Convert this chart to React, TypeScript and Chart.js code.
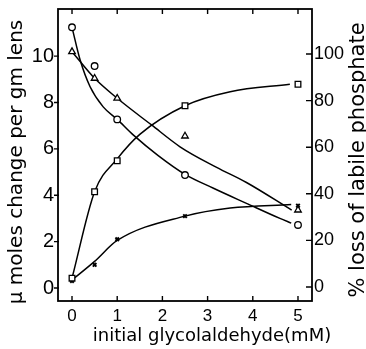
import React, { useEffect, useRef } from "react";
import { Chart, registerables } from "chart.js";

Chart.register(...registerables);

// ---- data ----
const xValues = [0, 0.5, 1, 2.5, 5];
const circleValues = [11.24, 9.57, 7.27, 4.87, 2.72]; // µmoles
const triangleValues = [10.19, 9.04, 8.18, 6.55, 3.36]; // µmoles
const crossValues = [0.3, 1.0, 2.1, 3.1, 3.55]; // µmoles
const squareValues = [3.8, 40.9, 54.2, 77.8, 87.0]; // % loss

// smooth hand-drawn curves
const circleCurveX = [0, 0.18, 0.4, 0.69, 1, 1.36, 1.9, 2.5, 3.13, 3.86, 4.6, 4.85];
const circleCurveY = [11.24, 9.83, 8.68, 7.81, 7.27, 6.59, 5.72, 4.9, 4.3, 3.65, 3.0, 2.8];
const triangleCurveX = [0, 0.5, 1, 1.76, 2.39, 3.2, 3.86, 4.86];
const triangleCurveY = [10.19, 9.04, 8.18, 7.03, 6.09, 5.2, 4.55, 3.36];
const crossCurveX = [0, 0.5, 1, 2.5, 3.5, 4.85];
const crossCurveY = [0.35, 1.15, 2.05, 3.1, 3.45, 3.6];
const squareCurveX = [0, 0.5, 1, 1.5, 2.5, 3.5, 4.82];
const squareCurveY = [3.8, 40.9, 55, 65.5, 77.8, 83.8, 87.0];

const xTicks = [0, 1, 2, 3, 4, 5];
const leftTicks = [0, 2, 4, 6, 8, 10];
const rightTicks = [0, 20, 40, 60, 80, 100];

const xTitle = "initial glycolaldehyde(mM)";
const leftTitle = "\u03bc moles change per gm lens";
const rightTitle = "% loss of labile phosphate";

const pts = (xs: number[], ys: number[]) => xs.map((x, i) => ({ x, y: ys[i] }));

const TICK_FONT = "'Liberation Sans', Arial, sans-serif";
const TITLE_FONT = "'DejaVu Sans', sans-serif";

const framePlugin = {
  id: "frame",
  afterDraw(chart: any) {
    const { ctx, chartArea: a, scales } = chart;
    ctx.save();
    ctx.strokeStyle = "#000";
    ctx.lineWidth = 1.8;
    ctx.strokeRect(a.left, a.top, a.right - a.left, a.bottom - a.top);
    ctx.lineWidth = 1.4;
    ctx.beginPath();
    scales.x.ticks.forEach((t: any) => {
      const px = scales.x.getPixelForValue(t.value);
      ctx.moveTo(px, a.bottom);
      ctx.lineTo(px, a.bottom - 5);
      ctx.moveTo(px, a.top);
      ctx.lineTo(px, a.top + 5);
    });
    scales.y.ticks.forEach((t: any) => {
      const py = scales.y.getPixelForValue(t.value);
      ctx.moveTo(a.left - 4, py);
      ctx.lineTo(a.left + 1, py);
    });
    scales.y1.ticks.forEach((t: any) => {
      const py = scales.y1.getPixelForValue(t.value);
      ctx.moveTo(a.right, py);
      ctx.lineTo(a.right - 6, py);
    });
    ctx.stroke();

    ctx.fillStyle = "#000";
    ctx.textAlign = "center";
    ctx.textBaseline = "alphabetic";
    // x title
    ctx.font = `18px ${TITLE_FONT}`;
    ctx.fillText(xTitle, 212, 341);
    // left title
    ctx.font = `20px ${TITLE_FONT}`;
    ctx.save();
    ctx.translate(22, 162);
    ctx.rotate(-Math.PI / 2);
    ctx.fillText(leftTitle, 0, 0);
    ctx.restore();
    // right title
    ctx.font = `21px ${TITLE_FONT}`;
    ctx.save();
    ctx.translate(364, 160);
    ctx.rotate(-Math.PI / 2);
    ctx.fillText(rightTitle, 0, 0);
    ctx.restore();
    ctx.restore();
  },
};

const zeroPad = (s: any) => {
  s.paddingTop = 0;
  s.paddingBottom = 0;
  s.paddingLeft = 0;
  s.paddingRight = 0;
};

export default function App() {
  const ref = useRef<HTMLCanvasElement>(null);
  useEffect(() => {
    if (!ref.current) return;
    const marker = (data: any, style: string, radius: number, yAxisID = "y", bw = 1.3) => ({
      data,
      yAxisID,
      showLine: false,
      pointStyle: style,
      pointRadius: radius,
      pointBorderWidth: bw,
      pointBorderColor: "#000",
      pointBackgroundColor: "#fff",
      borderColor: "#000",
      backgroundColor: "#fff",
      order: 1,
    });
    const curve = (data: any, yAxisID = "y") => ({
      data,
      yAxisID,
      showLine: true,
      pointRadius: 0,
      borderColor: "#000",
      borderWidth: 1.5,
      cubicInterpolationMode: "monotone",
      fill: false,
      order: 2,
    });
    const chart = new Chart(ref.current, {
      type: "scatter",
      data: {
        datasets: [
          curve(pts(circleCurveX, circleCurveY)),
          curve(pts(triangleCurveX, triangleCurveY)),
          curve(pts(crossCurveX, crossCurveY)),
          curve(pts(squareCurveX, squareCurveY), "y1"),
          marker(pts(xValues, circleValues), "circle", 3.3),
          marker(pts(xValues, triangleValues), "triangle", 3.8),
          marker(pts(xValues, squareValues), "rect", 4, "y1"),
          marker(pts(xValues, crossValues), "crossRot", 2.5, "y", 2),
        ] as any,
      },
      options: {
        animation: false,
        responsive: false,
        events: [],
        layout: { padding: { top: 9, left: 0, right: 0, bottom: 0 } },
        plugins: { legend: { display: false }, tooltip: { enabled: false } },
        scales: {
          x: {
            type: "linear",
            position: "bottom",
            min: -0.31,
            max: 5.31,
            grid: { display: false, drawTicks: false },
            border: { display: false },
            ticks: { color: "#000", padding: 5, font: { family: TICK_FONT, size: 17 } },
            afterBuildTicks: (s: any) => {
              s.ticks = xTicks.map((value) => ({ value }));
            },
            afterFit: (s: any) => {
              s.height = 48;
              zeroPad(s);
            },
          },
          y: {
            type: "linear",
            position: "left",
            min: -0.56,
            max: 12.03,
            grid: { display: false, drawTicks: false },
            border: { display: false },
            ticks: { color: "#000", padding: 4, font: { family: TICK_FONT, size: 20 } },
            afterBuildTicks: (s: any) => {
              s.ticks = leftTicks.map((value) => ({ value }));
            },
            afterFit: (s: any) => {
              s.width = 58;
              zeroPad(s);
            },
          },
          y1: {
            type: "linear",
            position: "right",
            min: -6.0,
            max: 119.3,
            grid: { display: false, drawTicks: false },
            border: { display: false },
            ticks: { color: "#000", padding: 2, font: { family: TICK_FONT, size: 18 } },
            afterBuildTicks: (s: any) => {
              s.ticks = rightTicks.map((value) => ({ value }));
            },
            afterFit: (s: any) => {
              s.width = 54;
              zeroPad(s);
            },
          },
        },
      } as any,
      plugins: [framePlugin],
    });
    return () => chart.destroy();
  }, []);
  return (
    <div style={{ position: "fixed", left: 0, top: 0, width: 366, height: 349, background: "#fff" }}>
      <canvas ref={ref} width={366} height={349} style={{ display: "block", width: 366, height: 349 }} />
    </div>
  );
}
